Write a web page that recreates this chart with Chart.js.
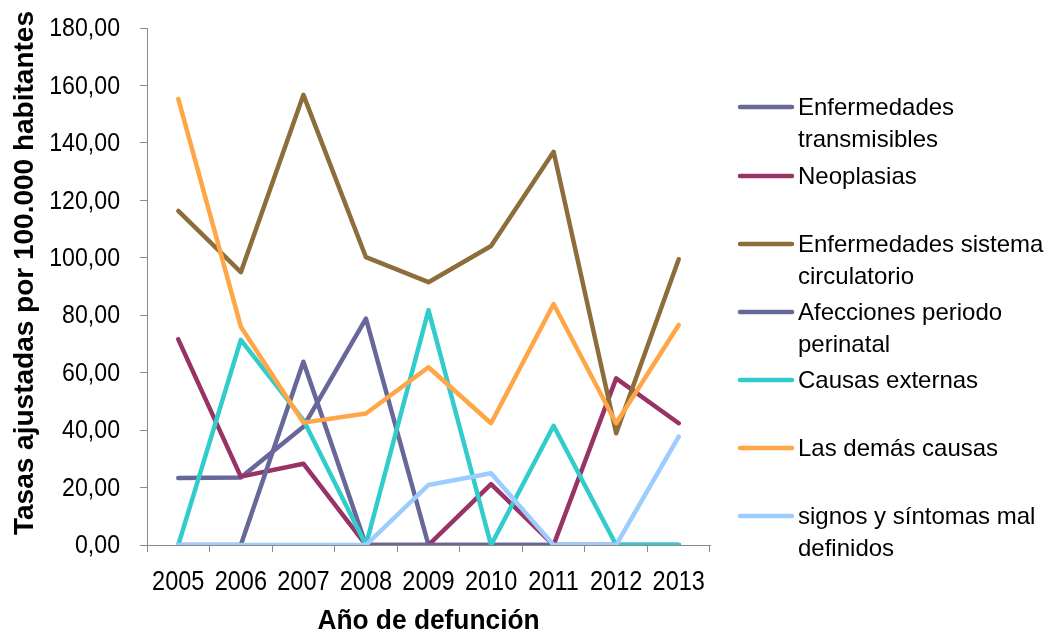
<!DOCTYPE html>
<html>
<head>
<meta charset="utf-8">
<script src="https://cdn.jsdelivr.net/npm/chart.js@4/dist/chart.umd.min.js"></script>
<style>
  html, body { margin: 0; padding: 0; background: #ffffff; }
  #wrap { width: 1045px; height: 635px; position: relative; }
</style>
</head>
<body>
<div id="wrap"><canvas id="c" width="1045" height="635"></canvas></div>
<script>
// Años de defunción
const years = ['2005', '2006', '2007', '2008', '2009', '2010', '2011', '2012', '2013'];

// Tasas ajustadas por 100.000 habitantes, por grupo de causas
const transmisibles = [23.3, 23.5, 41.2, 78.8, 0, 0, 0, 0, 0];
const neoplasias = [71.6, 23.8, 28.3, 0, 0, 21.2, 0, 58.0, 42.4];
const circulatorio = [116.3, 95.0, 156.7, 100.2, 91.5, 104.1, 136.9, 38.9, 99.5];
const perinatal = [0, 0, 63.8, 0, 0, 0, 0, 0, 0];
const externas = [0, 71.4, 43.5, 0, 81.8, 0, 41.5, 0, 0];
const demas = [155.3, 76.0, 42.6, 45.8, 61.9, 42.4, 83.9, 42.4, 76.6];
const signos = [0, 0, 0, 0, 20.9, 25.0, 0, 0, 37.7];

// Textos de la leyenda (una entrada por línea de texto)
const seriesLabels = [
  ['Enfermedades', 'transmisibles'],
  ['Neoplasias'],
  ['Enfermedades sistema', 'circulatorio'],
  ['Afecciones periodo', 'perinatal'],
  ['Causas externas'],
  ['Las demás causas'],
  ['signos y síntomas mal', 'definidos']
];
const seriesValues = [transmisibles, neoplasias, circulatorio, perinatal, externas, demas, signos];
const seriesColors = ['#67679A', '#993366', '#8D6E3B', '#67679A', '#33CCCC', '#FFA647', '#9DCDFF'];

const yTitle = 'Tasas ajustadas por 100.000 habitantes';
const xTitle = 'Año de defunción';

const FAMILY = "'Liberation Sans', Arial, sans-serif";

const PLOT_LEFT = 147, PLOT_RIGHT = 710, PLOT_TOP = 28, PLOT_BOTTOM = 545;
const W = 1045, H = 635;

const fmt = (v) => v.toFixed(2).replace('.', ',');

const datasets = seriesValues.map((vals, i) => ({
  label: seriesLabels[i].join(' '),
  data: vals,
  borderColor: seriesColors[i],
  backgroundColor: seriesColors[i],
  borderWidth: 4.5,
  borderCapStyle: 'round',
  borderJoinStyle: 'round',
  pointRadius: 0,
  pointHoverRadius: 0,
  tension: 0,
  fill: false,
  order: seriesValues.length - i
}));

// Texto condensado horizontalmente (estilo "narrow")
function narrowText(ctx, text, x, y, scaleX, align) {
  ctx.save();
  ctx.translate(x, y);
  ctx.scale(scaleX, 1);
  ctx.textAlign = align;
  ctx.fillText(text, 0, 0);
  ctx.restore();
}

// Etiquetas de ejes y títulos, colocadas con las escalas del gráfico
const axisText = {
  id: 'axisText',
  afterDraw(chart) {
    const ctx = chart.ctx;
    const xs = chart.scales.x, ys = chart.scales.y;
    ctx.save();
    ctx.fillStyle = '#000000';

    // valores del eje Y
    ctx.font = '26px ' + FAMILY;
    ctx.textBaseline = 'middle';
    ys.ticks.forEach((t) => {
      narrowText(ctx, fmt(t.value), 120, ys.getPixelForValue(t.value) + 1, 0.89, 'right');
    });

    // años del eje X
    ctx.font = '28px ' + FAMILY;
    ctx.textBaseline = 'alphabetic';
    years.forEach((yr, i) => {
      narrowText(ctx, yr, xs.getPixelForValue(i), 590, 0.84, 'center');
    });

    // título del eje X
    ctx.font = 'bold 28px ' + FAMILY;
    narrowText(ctx, xTitle, (xs.left + xs.right) / 2, 629, 0.94, 'center');

    // título del eje Y (vertical)
    ctx.save();
    ctx.translate(33, 273);
    ctx.rotate(-Math.PI / 2);
    ctx.font = 'bold 28px ' + FAMILY;
    ctx.textAlign = 'center';
    ctx.textBaseline = 'alphabetic';
    ctx.fillText(yTitle, 0, 0);
    ctx.restore();

    ctx.restore();
  }
};

// Leyenda dibujada a la derecha del área de trazado, con textos en varias líneas
const sideLegend = {
  id: 'sideLegend',
  afterDraw(chart) {
    const ctx = chart.ctx;
    const rowY = [107, 176, 244, 312, 380, 448, 516];
    const lineH = 32;
    ctx.save();
    ctx.font = '24px ' + FAMILY;
    ctx.textBaseline = 'middle';
    ctx.textAlign = 'left';
    chart.data.datasets.forEach((ds, i) => {
      const y = rowY[i];
      ctx.strokeStyle = ds.borderColor;
      ctx.lineWidth = 4.5;
      ctx.lineCap = 'round';
      ctx.beginPath();
      ctx.moveTo(740, y);
      ctx.lineTo(792, y);
      ctx.stroke();
      ctx.fillStyle = '#000000';
      seriesLabels[i].forEach((t, k) => {
        ctx.fillText(t, 798, y + 1 + k * lineH);
      });
    });
    ctx.restore();
  }
};

new Chart(document.getElementById('c'), {
  type: 'line',
  data: { labels: years, datasets },
  options: {
    responsive: false,
    animation: false,
    events: [],
    layout: { padding: { left: 0, right: W - PLOT_RIGHT, top: PLOT_TOP, bottom: 0 } },
    plugins: {
      legend: { display: false },
      tooltip: { enabled: false },
      title: { display: false }
    },
    scales: {
      x: {
        type: 'category',
        offset: true,
        border: { display: true, color: '#898989', width: 1 },
        grid: { display: true, offset: true, drawOnChartArea: false, drawTicks: true, tickLength: 7, color: '#898989', lineWidth: 1 },
        ticks: { display: false, autoSkip: false, maxRotation: 0 },
        title: { display: false },
        afterFit(scale) { scale.height = H - PLOT_BOTTOM; }
      },
      y: {
        min: 0,
        max: 180,
        border: { display: true, color: '#898989', width: 1 },
        grid: { display: true, drawOnChartArea: false, drawTicks: true, tickLength: 7, color: '#898989', lineWidth: 1 },
        ticks: { display: false, stepSize: 20 },
        title: { display: false },
        afterFit(scale) { scale.width = PLOT_LEFT; }
      }
    }
  },
  plugins: [axisText, sideLegend]
});
</script>
</body>
</html>
